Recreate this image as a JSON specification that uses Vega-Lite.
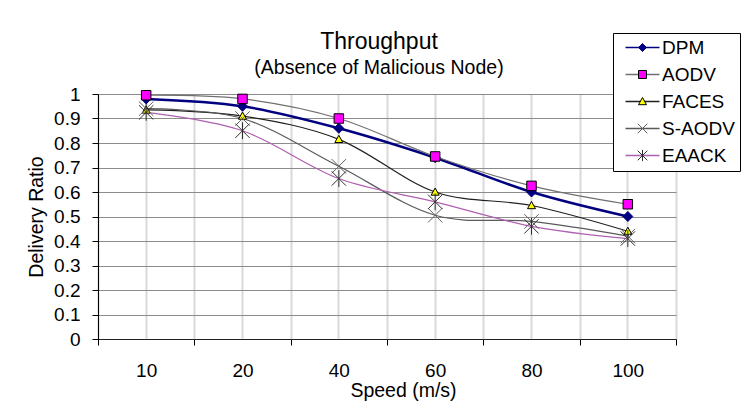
{
  "$schema": "https://vega.github.io/schema/vega-lite/v6.json",
  "width": 578,
  "height": 245,
  "autosize": {"type": "none"},
  "padding": {"left": 98, "top": 94, "right": 72, "bottom": 73},
  "background": "white",
  "config": {
    "font": "Liberation Sans",
    "view": {"stroke": null},
    "axis": {"labelFont": "Liberation Sans", "titleFont": "Liberation Sans", "labelColor": "black", "titleColor": "black", "titleFontWeight": "normal"}
  },
  "title": {
    "text": "Throughput",
    "subtitle": "(Absence of Malicious Node)",
    "font": "Liberation Sans",
    "subtitleFont": "Liberation Sans",
    "fontSize": 23,
    "subtitleFontSize": 19.5,
    "fontWeight": "normal",
    "color": "black",
    "subtitleColor": "black",
    "anchor": "middle",
    "frame": "group",
    "dx": -8,
    "dy": 49,
    "subtitlePadding": 5
  },
  "data": {
    "values": [
      {"speed": "10", "series": "DPM", "ratio": 0.98},
      {"speed": "20", "series": "DPM", "ratio": 0.95},
      {"speed": "40", "series": "DPM", "ratio": 0.86},
      {"speed": "60", "series": "DPM", "ratio": 0.74},
      {"speed": "80", "series": "DPM", "ratio": 0.60},
      {"speed": "100", "series": "DPM", "ratio": 0.50},
      {"speed": "10", "series": "AODV", "ratio": 0.995},
      {"speed": "20", "series": "AODV", "ratio": 0.98},
      {"speed": "40", "series": "AODV", "ratio": 0.90},
      {"speed": "60", "series": "AODV", "ratio": 0.745},
      {"speed": "80", "series": "AODV", "ratio": 0.625},
      {"speed": "100", "series": "AODV", "ratio": 0.55},
      {"speed": "10", "series": "FACES", "ratio": 0.935},
      {"speed": "20", "series": "FACES", "ratio": 0.91},
      {"speed": "40", "series": "FACES", "ratio": 0.815},
      {"speed": "60", "series": "FACES", "ratio": 0.60},
      {"speed": "80", "series": "FACES", "ratio": 0.545},
      {"speed": "100", "series": "FACES", "ratio": 0.44},
      {"speed": "10", "series": "S-AODV", "ratio": 0.94},
      {"speed": "20", "series": "S-AODV", "ratio": 0.90},
      {"speed": "40", "series": "S-AODV", "ratio": 0.705},
      {"speed": "60", "series": "S-AODV", "ratio": 0.505},
      {"speed": "80", "series": "S-AODV", "ratio": 0.48},
      {"speed": "100", "series": "S-AODV", "ratio": 0.42},
      {"speed": "10", "series": "EAACK", "ratio": 0.925},
      {"speed": "20", "series": "EAACK", "ratio": 0.85},
      {"speed": "40", "series": "EAACK", "ratio": 0.655},
      {"speed": "60", "series": "EAACK", "ratio": 0.56},
      {"speed": "80", "series": "EAACK", "ratio": 0.46},
      {"speed": "100", "series": "EAACK", "ratio": 0.41}
    ]
  },
  "encoding": {
    "y": {
      "field": "ratio",
      "type": "quantitative",
      "scale": {"domain": [0, 1], "nice": false, "zero": true},
      "axis": {
        "values": [0, 0.1, 0.2, 0.3, 0.4, 0.5, 0.6, 0.7, 0.8, 0.9, 1],
        "format": "~g",
        "title": "Delivery Ratio",
        "titleFontSize": 19.5,
        "titleAngle": 270,
        "titleBaseline": "alphabetic",
        "titleAlign": "center",
        "titleX": -56,
        "titleY": 122.5,
        "labelFontSize": 19,
        "labelPadding": 12,
        "tickSize": 6,
        "tickColor": "#000000",
        "domainColor": "#000000",
        "domainWidth": 1,
        "grid": true,
        "gridColor": "#8c8c8c",
        "gridWidth": 1
      }
    }
  },
  "layer": [
    {
      "mark": {"type": "line", "interpolate": "cardinal"},
      "encoding": {
        "x": {
          "field": "speed",
          "type": "ordinal",
          "sort": ["10", "20", "40", "60", "80", "100"],
          "scale": {"type": "band", "paddingInner": 0, "paddingOuter": 0},
          "axis": {
            "orient": "bottom",
            "title": "Speed (m/s)",
            "titleFontSize": 19.5,
            "titleBaseline": "alphabetic",
            "titleAlign": "center",
            "titleX": 305,
            "titleY": 57.5,
            "labelAngle": 0,
            "labelFontSize": 19,
            "labelBaseline": "alphabetic",
            "labelPadding": 31.5,
            "tickBand": "extent",
            "tickSize": 6,
            "tickColor": "#000000",
            "domainColor": "#222222",
            "grid": true,
            "gridColor": "#d9d9d9",
            "gridWidth": 2
          }
        },
        "color": {
          "field": "series",
          "type": "nominal",
          "sort": ["DPM", "AODV", "FACES", "S-AODV", "EAACK"],
          "scale": {
            "range": ["#000080", "#707070", "#202020", "#5a5a5a", "#b060b0"]
          },
          "legend": {
            "title": null,
            "orient": "none",
            "legendX": 515,
            "legendY": -61,
            "zindex": 0,
            "strokeColor": "#000000",
            "fillColor": "#ffffff",
            "padding": 5,
            "symbolOffset": 15,
            "labelOffset": 10,
            "rowPadding": 7,
            "symbolSize": 64,
            "symbolType": "M-4.25,0H4.25",
            "symbolStrokeWidth": 1.5,
            "symbolOpacity": 1,
            "labelFont": "Liberation Sans",
            "labelFontSize": 19,
            "labelColor": "#000000"
          }
        },
        "strokeWidth": {
          "condition": {"test": "datum.series === 'DPM'", "value": 2.5},
          "value": 1.2
        }
      }
    },
    {
      "mark": {"type": "point", "opacity": 1, "strokeWidth": 1},
      "encoding": {
        "x": {
          "field": "speed",
          "type": "ordinal",
          "sort": ["10", "20", "40", "60", "80", "100"],
          "axis": {
            "grid": true,
            "gridColor": "#d9d9d9",
            "gridWidth": 2,
            "labels": false,
            "ticks": false,
            "domain": false,
            "title": null
          }
        },
        "shape": {
          "field": "series",
          "type": "nominal",
          "scale": {
            "domain": ["DPM", "AODV", "FACES", "S-AODV", "EAACK"],
            "range": [
              "M0,-1L1,0L0,1L-1,0Z",
              "M-1,-1H1V1H-1Z",
              "M0,-1L1,0.8H-1Z",
              "M-1.2,-1.2L1.2,1.2M-1.2,1.2L1.2,-1.2",
              "M-1.2,-1.2L1.2,1.2M-1.2,1.2L1.2,-1.2M0,-1.4V1.4"
            ]
          },
          "legend": {
            "title": null,
            "orient": "none",
            "legendX": 515,
            "legendY": -61,
            "zindex": 1,
            "padding": 5,
            "symbolOffset": 15,
            "labelOffset": 10,
            "rowPadding": 7,
            "symbolSize": 64,
            "symbolStrokeWidth": 1,
            "symbolOpacity": 1,
            "symbolFillColor": "transparent",
            "symbolStrokeColor": "transparent",
            "labelFont": "Liberation Sans",
            "labelFontSize": 19,
            "labelColor": "transparent"
          }
        },
        "fill": {
          "field": "series",
          "type": "nominal",
          "scale": {
            "domain": ["DPM", "AODV", "FACES", "S-AODV", "EAACK"],
            "range": ["#000080", "#ff00ff", "#ffff00", "transparent", "transparent"]
          },
          "legend": {
            "title": null,
            "orient": "none",
            "legendX": 515,
            "legendY": -61,
            "zindex": 1,
            "padding": 5,
            "symbolOffset": 15,
            "labelOffset": 10,
            "rowPadding": 7,
            "symbolSize": 64,
            "symbolStrokeWidth": 1,
            "symbolOpacity": 1,
            "symbolFillColor": "transparent",
            "symbolStrokeColor": "transparent",
            "labelFont": "Liberation Sans",
            "labelFontSize": 19,
            "labelColor": "transparent"
          }
        },
        "stroke": {
          "field": "series",
          "type": "nominal",
          "scale": {
            "domain": ["DPM", "AODV", "FACES", "S-AODV", "EAACK"],
            "range": ["#000080", "#000000", "#000000", "#606060", "#303030"]
          },
          "legend": {
            "title": null,
            "orient": "none",
            "legendX": 515,
            "legendY": -61,
            "zindex": 1,
            "padding": 5,
            "symbolOffset": 15,
            "labelOffset": 10,
            "rowPadding": 7,
            "symbolSize": 64,
            "symbolStrokeWidth": 1,
            "symbolOpacity": 1,
            "symbolFillColor": "transparent",
            "symbolStrokeColor": "transparent",
            "labelFont": "Liberation Sans",
            "labelFontSize": 19,
            "labelColor": "transparent"
          }
        },
        "size": {
          "condition": [
            {"test": "datum.series === 'S-AODV' || datum.series === 'EAACK'", "value": 144},
            {"test": "datum.series === 'FACES'", "value": 64},
            {"test": "datum.series === 'AODV'", "value": 90}
          ],
          "value": 100
        }
      }
    }
  ],
  "resolve": {"axis": {"x": "independent"}}
}
